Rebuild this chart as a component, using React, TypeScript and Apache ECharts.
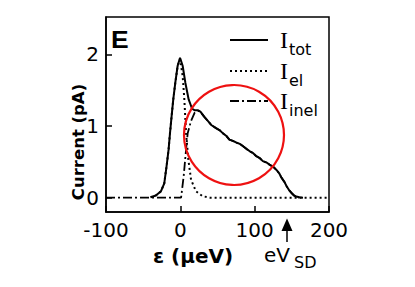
import React, { useEffect, useRef } from "react";
import * as echarts from "echarts";

// ε (µeV) and current (pA)
const totEps = [-40, -33, -26, -21.6, -18.5, -15.8, -13.9, -11.7, -9.5, -6.8, -3.6, -0.4, 3.1, 6.8, 11.2, 15.8, 19, 23.4, 27, 32, 37, 42, 48, 53, 57, 62, 66, 71, 75, 80, 84, 89, 93, 98, 102, 107, 111, 116, 120, 125, 129, 133, 136, 140, 143, 146, 149.6, 153, 156, 160, 165];
const totCur = [0.005, 0.03, 0.09, 0.2, 0.44, 0.67, 0.9, 1.14, 1.37, 1.6, 1.84, 1.95, 1.84, 1.6, 1.37, 1.24, 1.22, 1.22, 1.2, 1.13, 1.07, 1.01, 0.97, 0.94, 0.9, 0.86, 0.81, 0.79, 0.77, 0.75, 0.72, 0.68, 0.65, 0.62, 0.58, 0.55, 0.51, 0.49, 0.46, 0.43, 0.39, 0.34, 0.28, 0.22, 0.16, 0.11, 0.065, 0.03, 0.015, 0.005, 0];

const elEps = [-40, -33, -26, -21.6, -18.5, -15.8, -13.9, -11.7, -9.5, -6.8, -3.6, -0.4, 3.1, 5.4, 7.7, 10.8, 14.4, 21, 30, 40, 200];
const elCur = [0.005, 0.03, 0.09, 0.2, 0.44, 0.67, 0.9, 1.14, 1.37, 1.6, 1.84, 1.93, 1.7, 1.37, 0.9, 0.53, 0.25, 0.09, 0.02, 0, 0];

const inelEps = [-100, 1, 4.5, 7.7, 9.9, 14.4, 19, 23.4, 27, 32, 37, 42, 48, 53, 57, 62, 66, 71, 75, 80, 84, 89, 93, 98, 102, 107, 111, 116, 120, 125, 129, 133, 136, 140, 143, 146, 149.6, 153, 156, 160];
const inelCur = [0, 0, 0.3, 0.67, 0.9, 1.07, 1.18, 1.21, 1.2, 1.13, 1.07, 1.01, 0.97, 0.94, 0.9, 0.86, 0.81, 0.79, 0.77, 0.75, 0.72, 0.68, 0.65, 0.62, 0.58, 0.55, 0.51, 0.49, 0.46, 0.43, 0.39, 0.34, 0.28, 0.22, 0.16, 0.11, 0.065, 0.03, 0.015, 0];

const xTicks = [-100, 0, 100, 200];
const yTicks = [0, 1, 2];

const pairs = (xs: number[], ys: number[]) => xs.map((x, i) => [x, ys[i]]);

export default function App() {
  const ref = useRef<HTMLDivElement>(null);
  useEffect(() => {
    const chart = echarts.init(ref.current!, null, { renderer: "svg" });
    const sans = "DejaVu Sans";
    const legendRows = [
      { y: 40, dash: "solid" as any, sub: "tot" },
      { y: 71, dash: [2, 3], sub: "el" },
      { y: 101, dash: [9, 3, 2, 3], sub: "inel" },
    ];
    const legendGraphics: any[] = [];
    legendRows.forEach((r) => {
      legendGraphics.push({
        type: "line",
        shape: { x1: 230, y1: r.y, x2: 268, y2: r.y },
        style: { stroke: "#000", lineWidth: 2, lineDash: r.dash === "solid" ? null : r.dash },
      });
      legendGraphics.push({
        type: "text",
        x: 280,
        y: r.y,
        style: { text: "I", font: "24px 'Liberation Serif'", fill: "#000", align: "left", verticalAlign: "middle" },
      });
      legendGraphics.push({
        type: "text",
        x: 289,
        y: r.y + 9,
        style: { text: r.sub, font: `16px '${sans}'`, fill: "#000", align: "left", verticalAlign: "middle" },
      });
    });
    chart.setOption({
      animation: false,
      backgroundColor: "#fff",
      grid: { left: 106, right: 86, top: 17, bottom: 75, show: true, borderColor: "#000", borderWidth: 1.5, backgroundColor: "transparent" },
      xAxis: {
        type: "value",
        min: -100,
        max: 200,
        interval: 100,
        axisLine: { show: true, onZero: false, lineStyle: { color: "#000", width: 1.5 } },
        axisTick: { show: true, inside: true, length: 6, lineStyle: { color: "#000", width: 1.5 } },
        axisLabel: { color: "#000", fontFamily: sans, fontSize: 20, margin: 8, customValues: xTicks },
        splitLine: { show: false },
      },
      yAxis: {
        type: "value",
        min: -0.2,
        max: 2.52,
        axisLine: { show: true, onZero: false, lineStyle: { color: "#000", width: 1.5 } },
        axisTick: { show: true, inside: true, length: 6, lineStyle: { color: "#000", width: 1.5 }, customValues: yTicks },
        axisLabel: { color: "#000", fontFamily: sans, fontSize: 20, margin: 7, customValues: yTicks },
        splitLine: { show: false },
      },
      series: [
        {
          type: "line",
          data: pairs(inelEps, inelCur),
          showSymbol: false,
          lineStyle: { color: "#000", width: 1.8, type: [9, 3, 2, 3] },
          z: 2,
        },
        {
          type: "line",
          data: pairs(elEps, elCur),
          showSymbol: false,
          lineStyle: { color: "#000", width: 2, type: [2, 3] },
          z: 3,
        },
        {
          type: "line",
          data: pairs(totEps, totCur),
          showSymbol: false,
          lineStyle: { color: "#000", width: 2 },
          z: 4,
        },
      ],
      graphic: [
        {
          type: "text",
          x: 111,
          y: 40,
          scaleX: 1.15,
          style: { text: "E", font: "bold 23px 'Liberation Sans'", fill: "#000", align: "left", verticalAlign: "middle" },
        },
        {
          type: "text",
          x: 78,
          y: 142,
          rotation: Math.PI / 2,
          style: { text: "Current (pA)", font: `bold 16.5px '${sans}'`, fill: "#000", align: "center", verticalAlign: "middle" },
        },
        {
          type: "text",
          x: 193,
          y: 256,
          style: { text: "ε (μeV)", font: `bold 20px '${sans}'`, fill: "#000", align: "center", verticalAlign: "middle" },
        },
        {
          type: "text",
          x: 264,
          y: 255,
          style: { text: "eV", font: `20px '${sans}'`, fill: "#000", align: "left", verticalAlign: "middle" },
        },
        {
          type: "text",
          x: 294,
          y: 262,
          style: { text: "SD", font: `16px '${sans}'`, fill: "#000", align: "left", verticalAlign: "middle" },
        },
        {
          type: "line",
          shape: { x1: 287, y1: 242, x2: 287, y2: 228 },
          style: { stroke: "#000", lineWidth: 1.5 },
        },
        {
          type: "polygon",
          shape: { points: [[281.5, 231], [292.5, 231], [287, 218.5]] },
          style: { fill: "#000" },
        },
        ...legendGraphics,
        {
          type: "circle",
          shape: { cx: 234, cy: 135, r: 50 },
          style: { fill: "none", stroke: "#ee1111", lineWidth: 2.2 },
          z: 100,
        },
      ],
    });
    return () => chart.dispose();
  }, []);
  return <div ref={ref} style={{ position: "fixed", left: 0, top: 0, width: 415, height: 287 }} />;
}
